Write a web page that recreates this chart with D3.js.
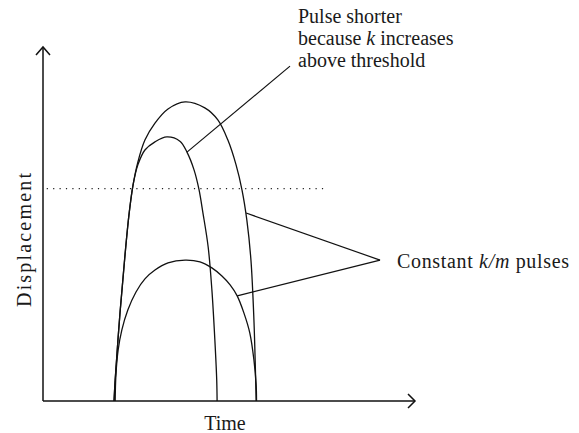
<!DOCTYPE html>
<html>
<head>
<meta charset="utf-8">
<script src="https://cdn.jsdelivr.net/npm/d3@7"></script>
<style>
  body { margin: 0; background: #fff; }
  svg text { font-family: "Liberation Serif", "DejaVu Serif", serif; fill: #1a1a1a; }
  .pulse { fill: none; stroke: #111; stroke-width: 1.3; }
  .axis { stroke: #111; stroke-width: 1.5; fill: none; }
  .pointer { stroke: #111; stroke-width: 1.2; }
</style>
</head>
<body>
<svg id="chart" width="579" height="433"></svg>
<script>
// Pulse shapes (time, displacement), arbitrary units 0-10
const tallPulse = [
  [1.91, 0], [1.94, 0.59], [2.07, 2.49], [2.20, 4.07], [2.31, 5.25], [2.42, 6.10],
  [2.55, 6.75], [2.74, 7.37], [3.01, 7.85], [3.36, 8.25], [3.82, 8.45], [4.35, 8.28],
  [4.70, 7.94], [4.97, 7.37], [5.19, 6.67], [5.35, 5.96], [5.48, 5.11], [5.59, 3.98],
  [5.67, 2.29], [5.71, 0.88], [5.73, 0]
];
const shortPulse = [
  [1.91, 0], [1.94, 0.59], [2.07, 2.49], [2.20, 4.07], [2.31, 5.25], [2.42, 6.10],
  [2.55, 6.67], [2.74, 7.09], [3.01, 7.32], [3.33, 7.46], [3.68, 7.34], [3.87, 7.03],
  [4.06, 6.53], [4.19, 5.99], [4.30, 5.31], [4.44, 4.35], [4.54, 3.14], [4.62, 1.72],
  [4.67, 0.59], [4.68, 0]
];
const lowPulse = [
  [1.94, 0], [1.96, 0.73], [2.02, 1.44], [2.12, 2.01], [2.28, 2.57], [2.50, 3.08],
  [2.74, 3.45], [3.01, 3.70], [3.36, 3.90], [3.82, 3.98], [4.22, 3.93], [4.54, 3.76],
  [4.81, 3.53], [5.03, 3.28], [5.22, 2.97], [5.40, 2.49], [5.56, 1.92], [5.67, 1.16],
  [5.73, 0.45], [5.74, 0]
];

const threshold = 6.0;
const thresholdSpan = [0.1, 7.58];

// annotation pointers: [from curve point, to label point]
const shorterPointer = [[3.87, 7.03], [6.64, 9.46]];
const constantPointers = [
  [[5.46, 5.31], [9.06, 3.98]],
  [[5.22, 2.97], [9.06, 3.98]]
];
const shorterLabel = ["Pulse shorter", "because <i>k</i> increases", "above threshold"];

const svg = d3.select("#chart");

const x = d3.scaleLinear().domain([0, 10]).range([43, 415]);
const y = d3.scaleLinear().domain([0, 10]).range([401, 47]);

// axes with open arrowheads
const axisG = svg.append("g");
axisG.append("line").attr("class", "axis")
  .attr("x1", x(0)).attr("y1", y(0)).attr("x2", x(10)).attr("y2", y(0));
axisG.append("line").attr("class", "axis")
  .attr("x1", x(0)).attr("y1", y(0)).attr("x2", x(0)).attr("y2", y(10));
axisG.append("path").attr("class", "axis")
  .attr("d", `M${x(10) - 7},${y(0) - 7}L${x(10)},${y(0)}L${x(10) - 7},${y(0) + 7}`);
axisG.append("path").attr("class", "axis")
  .attr("d", `M${x(0) - 7},${y(10) + 8}L${x(0)},${y(10)}L${x(0) + 7},${y(10) + 8}`);

// threshold
svg.append("line")
  .attr("x1", x(thresholdSpan[0])).attr("x2", x(thresholdSpan[1]))
  .attr("y1", y(threshold)).attr("y2", y(threshold))
  .attr("stroke", "#222").attr("stroke-width", 1.3)
  .attr("stroke-dasharray", "1.2,5.2");

// pulses
const line = d3.line()
  .x(d => x(d[0]))
  .y(d => y(d[1]))
  .curve(d3.curveCatmullRom.alpha(0.5));

svg.append("g").selectAll("path")
  .data([tallPulse, shortPulse, lowPulse])
  .enter().append("path")
    .attr("class", "pulse")
    .attr("d", line);

// pointers
svg.append("g").selectAll("line")
  .data([shorterPointer, ...constantPointers])
  .enter().append("line")
    .attr("class", "pointer")
    .attr("x1", d => x(d[0][0])).attr("y1", d => y(d[0][1]))
    .attr("x2", d => x(d[1][0])).attr("y2", d => y(d[1][1]));

// labels
shorterLabel.forEach((s, i) => {
  const t = svg.append("text")
    .attr("font-size", 20)
    .attr("x", 298)
    .attr("y", 23 + i * 22);
  s.split(/<i>|<\/i>/).forEach((p, j) => {
    t.append("tspan").attr("font-style", j % 2 ? "italic" : null).text(p);
  });
});

const c = svg.append("text")
  .attr("font-size", 20)
  .attr("x", 397).attr("y", 268)
  .attr("textLength", 172)
  .attr("lengthAdjust", "spacing");
c.append("tspan").text("Constant ");
c.append("tspan").attr("font-style", "italic").text("k/m");
c.append("tspan").text(" pulses");

svg.append("text")
  .attr("font-size", 20)
  .attr("text-anchor", "middle")
  .attr("x", 225).attr("y", 430)
  .text("Time");

svg.append("text")
  .attr("font-size", 20)
  .attr("text-anchor", "middle")
  .attr("textLength", 134)
  .attr("lengthAdjust", "spacing")
  .attr("transform", "translate(31,240) rotate(-90)")
  .text("Displacement");
</script>
</body>
</html>
